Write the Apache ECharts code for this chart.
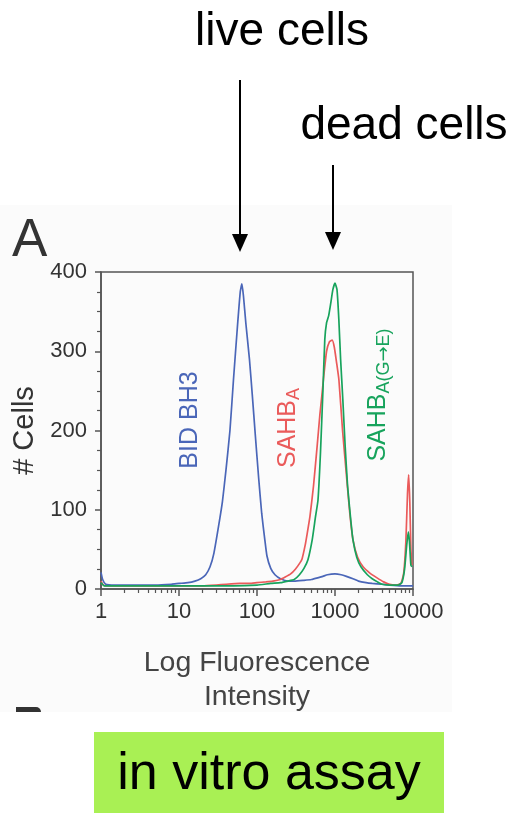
<!DOCTYPE html>
<html>
<head>
<meta charset="utf-8">
<script src="https://cdn.jsdelivr.net/npm/echarts@6/dist/echarts.min.js"></script>
<style>
html,body{margin:0;padding:0;background:#fff;}
#chart{width:518px;height:814px;}
</style>
</head>
<body>
<div id="chart"></div>
<script>
// ---- Data ----
var xTickLabels = [1, 10, 100, 1000, 10000];
var yTickLabels = [0, 100, 200, 300, 400];

var blueX = [1, 1.05, 1.15, 1.5, 2, 3, 5, 8, 10, 13, 16, 19, 22, 25, 28, 32, 36, 40, 45, 50, 56, 61, 64, 67, 72, 80, 87, 95, 105, 115, 126, 134, 150, 170, 200, 250, 300, 400, 500, 600, 700, 800, 1000, 1200, 1400, 1700, 2000, 2500, 3000, 4000, 5000, 7000, 10000];
var blueY = [21, 12, 6, 5, 5, 5, 5, 6, 7, 8, 10, 13, 18, 28, 45, 78, 110, 150, 200, 265, 330, 375, 385, 370, 335, 290, 245, 195, 140, 95, 62, 42, 26, 18, 13, 10, 10, 11, 12, 14, 16, 18, 19, 18, 16, 13, 10, 8, 7, 6, 5, 4, 4];

var redX = [1, 1.05, 1.15, 2, 5, 10, 20, 30, 40, 60, 80, 100, 130, 160, 200, 230, 270, 310, 355, 378, 414, 440, 478, 530, 590, 640, 680, 720, 780, 850, 920, 980, 1050, 1122, 1250, 1420, 1550, 1700, 1950, 2290, 2800, 3460, 4200, 5000, 6000, 7000, 7600, 8100, 8500, 8800, 9100, 9400, 9700];
var redY = [10, 6, 4, 4, 4, 4, 4, 5, 6, 7, 7, 8, 9, 10, 12, 15, 19, 25, 33, 38, 55, 70, 92, 130, 180, 220, 245, 270, 300, 312, 314, 305, 285, 264, 200, 137, 95, 62, 40, 28, 20, 14, 9, 6, 5, 7, 20, 60, 120, 144, 110, 50, 30];

var greenX = [1, 1.1, 2, 5, 10, 20, 50, 100, 150, 200, 250, 300, 350, 400, 450, 510, 560, 605, 650, 700, 740, 780, 830, 880, 940, 1000, 1060, 1120, 1180, 1260, 1350, 1450, 1600, 1700, 1900, 2150, 2600, 3000, 3500, 4000, 5000, 6500, 7200, 7800, 8300, 8700, 9000, 9400, 9700];
var greenY = [8, 4, 4, 4, 4, 4, 4, 5, 7, 8, 10, 12, 18, 26, 37, 62, 90, 112, 170, 250, 315, 336, 345, 360, 378, 386, 378, 340, 290, 239, 180, 130, 85, 62, 40, 28, 18, 13, 9, 6, 5, 5, 8, 25, 55, 72, 60, 30, 28];

var minorTickValues = [2,3,4,5,6,7,8,9,20,30,40,50,60,70,80,90,200,300,400,500,600,700,800,900,2000,3000,4000,5000,6000,7000,8000,9000];

function zip(xs, ys) { return xs.map(function (x, i) { return [x, ys[i]]; }); }

var BLUE = '#4a66b8', RED = '#ea5a5a', GREEN = '#17a35c';
var AXIS = '#555';
var FONT = 'Liberation Sans, Arial, sans-serif';

var chart = echarts.init(document.getElementById('chart'), null, {renderer: 'canvas'});

function subRich(color) {
  return {
    m: {fontSize: 25, fontFamily: FONT, fill: color, lineHeight: 30, verticalAlign: 'middle'},
    s: {fontSize: 18, fontFamily: FONT, fill: color, lineHeight: 16, verticalAlign: 'bottom'},
    a: {fontSize: 18, fontFamily: 'DejaVu Sans', fill: color, lineHeight: 16, verticalAlign: 'bottom'}
  };
}

var option = {
  animation: false,
  backgroundColor: '#ffffff',
  grid: {left: 101, top: 272, right: 105, bottom: 225, show: true, borderColor: AXIS, borderWidth: 1.5, backgroundColor: 'transparent'},
  xAxis: [{
    type: 'log', logBase: 10, min: 1, max: 10000, position: 'bottom',
    axisLine: {show: true, onZero: false, lineStyle: {color: AXIS, width: 1.5}},
    axisTick: {show: true, length: 7, lineStyle: {color: AXIS, width: 1.5}},
    axisLabel: {show: true, fontSize: 22, color: '#333', fontFamily: FONT, margin: 12,
      customValues: xTickLabels, formatter: function (v) { return String(Math.round(v)); }},
    splitLine: {show: false},
    name: 'Log Fluorescence\nIntensity', nameLocation: 'middle', nameGap: 57,
    nameTextStyle: {fontSize: 28.5, color: '#444', fontFamily: FONT, lineHeight: 34, verticalAlign: 'top'}
  }, {
    type: 'log', logBase: 10, min: 1, max: 10000, position: 'bottom',
    axisLine: {show: false, onZero: false},
    axisTick: {show: true, length: 4, customValues: minorTickValues, lineStyle: {color: AXIS, width: 1.2}},
    axisLabel: {show: false},
    splitLine: {show: false}
  }],
  yAxis: {
    type: 'value', min: 0, max: 400, interval: 100,
    axisLine: {show: true, lineStyle: {color: AXIS, width: 1.5}},
    axisTick: {show: true, length: 6, lineStyle: {color: AXIS, width: 1.5}},
    minorTick: {show: true, splitNumber: 4, length: 4, lineStyle: {color: AXIS, width: 1.2}},
    axisLabel: {fontSize: 22, color: '#333', fontFamily: FONT, margin: 14,
      customValues: yTickLabels},
    splitLine: {show: false},
    minorSplitLine: {show: false},
    name: '# Cells', nameLocation: 'middle', nameGap: 55,
    nameTextStyle: {fontSize: 29, color: '#333', fontFamily: FONT}
  },
  series: [
    {name: 'BID BH3', type: 'line', xAxisIndex: 0, data: zip(blueX, blueY), showSymbol: false, smooth: 0.15,
      lineStyle: {color: BLUE, width: 1.7}, itemStyle: {color: BLUE}, z: 3},
    {name: 'SAHBA', type: 'line', xAxisIndex: 0, data: zip(redX, redY), showSymbol: false, smooth: 0.15,
      lineStyle: {color: RED, width: 1.7}, itemStyle: {color: RED}, z: 4},
    {name: 'SAHBA(G→E)', type: 'line', xAxisIndex: 0, data: zip(greenX, greenY), showSymbol: false, smooth: 0.15,
      lineStyle: {color: GREEN, width: 1.7}, itemStyle: {color: GREEN}, z: 5}
  ],
  graphic: [
    // light figure background
    {type: 'rect', z: -10, silent: true, shape: {x: 0, y: 205, width: 452, height: 507}, style: {fill: '#fbfbfb'}},
    // cut-off "B" of next panel
    {type: 'rect', z: 10, silent: true, shape: {x: 16, y: 707, width: 25, height: 5, r: [0, 5, 0, 0]}, style: {fill: '#333'}},
    // clip of the 10000 label
    {type: 'rect', z: 100, silent: true, shape: {x: 452, y: 592, width: 66, height: 40}, style: {fill: '#ffffff'}},
    // panel letter
    {type: 'text', z: 10, x: 12, y: 241, style: {text: 'A', fontSize: 53, fontFamily: FONT, fill: '#333', align: 'left', verticalAlign: 'middle'}},
    // annotations above
    {type: 'text', z: 10, x: 282, y: 32, style: {text: 'live cells', fontSize: 46, fontFamily: FONT, fill: '#000', align: 'center', verticalAlign: 'middle'}},
    {type: 'text', z: 10, x: 404, y: 126, style: {text: 'dead cells', fontSize: 46, fontFamily: FONT, fill: '#000', align: 'center', verticalAlign: 'middle'}},
    {type: 'line', z: 10, shape: {x1: 240, y1: 80, x2: 240, y2: 238}, style: {stroke: '#000', lineWidth: 2}},
    {type: 'polygon', z: 10, shape: {points: [[232, 234], [248, 234], [240, 252]]}, style: {fill: '#000'}},
    {type: 'line', z: 10, shape: {x1: 333, y1: 165, x2: 333, y2: 236}, style: {stroke: '#000', lineWidth: 2}},
    {type: 'polygon', z: 10, shape: {points: [[325, 232], [341, 232], [333, 250]]}, style: {fill: '#000'}},
    // series labels
    {type: 'text', z: 10, x: 190, y: 420, rotation: Math.PI / 2,
      style: {text: 'BID BH3', fontSize: 25, fontFamily: FONT, fill: BLUE, align: 'center', verticalAlign: 'middle'}},
    {type: 'text', z: 10, x: 288, y: 428, rotation: Math.PI / 2,
      style: {text: '{m|SAHB}{s|A}', align: 'center', verticalAlign: 'middle', rich: subRich(RED)}},
    {type: 'text', z: 10, x: 378, y: 395, rotation: Math.PI / 2,
      style: {text: '{m|SAHB}{s|A(G}{a|→}{s|E)}', align: 'center', verticalAlign: 'middle', rich: subRich(GREEN)}},
    // bottom green box
    {type: 'rect', z: 10, shape: {x: 94, y: 732, width: 350, height: 81}, style: {fill: '#a9f054'}},
    {type: 'text', z: 11, x: 269, y: 775, style: {text: 'in vitro assay', fontSize: 52, fontFamily: FONT, fill: '#000', align: 'center', verticalAlign: 'middle'}}
  ]
};
chart.setOption(option);
</script>
</body>
</html>
